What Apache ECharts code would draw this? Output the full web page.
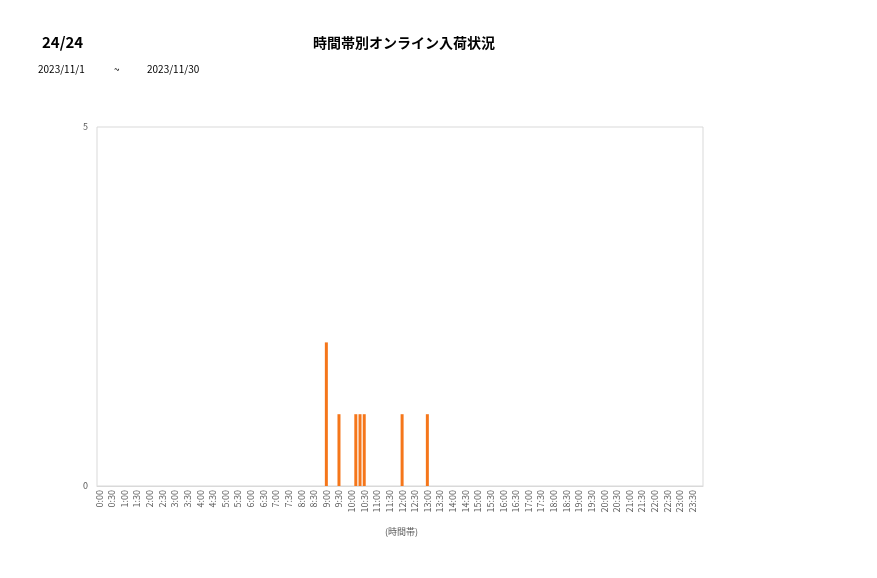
<!DOCTYPE html>
<html><head><meta charset="utf-8">
<script src="https://cdn.jsdelivr.net/npm/echarts@6/dist/echarts.min.js"></script>
<style>html,body{margin:0;padding:0;background:#fff}#c{width:877px;height:578px}</style>
</head><body><div id="c"></div>
<script>
const pageLabel = '24/24';
const titleText = '時間帯別オンライン入荷状況';
const dateFrom = '2023/11/1';
const dateTo = '2023/11/30';
const xName = '(時間帯)';
// 10-minute slots across the day
const slots = [];
for (let h = 0; h < 24; h++) for (let m = 0; m < 60; m += 10) slots.push(h + ':' + (m < 10 ? '0' + m : m));
// non-zero counts
const hitSlots = ['9:00', '9:30', '10:10', '10:20', '10:30', '12:00', '13:00'];
const hitValues = [2, 1, 1, 1, 1, 1, 1];
const values = slots.map(s => { const i = hitSlots.indexOf(s); return i >= 0 ? hitValues[i] : 0; });
const yTicks = [0, 5];

const font = '"Noto Sans CJK JP", "Noto Sans", sans-serif';
const chart = echarts.init(document.getElementById('c'));
chart.setOption({
  animation: false,
  textStyle: { fontFamily: font },
  grid: { left: 97, right: 174, top: 127, bottom: 92, show: true, borderColor: '#d9d9d9', borderWidth: 1 },
  xAxis: {
    type: 'category', data: slots,
    axisLine: { lineStyle: { color: '#d9d9d9' } },
    axisTick: { show: false },
    axisLabel: { interval: 2, rotate: 90, fontSize: 9, color: '#595959', margin: 4, fontFamily: font }
  },
  yAxis: {
    type: 'value', min: yTicks[0], max: yTicks[1], interval: 5,
    splitLine: { show: false }, axisLine: { show: false }, axisTick: { show: false },
    axisLabel: { fontSize: 9, color: '#595959', margin: 9, fontFamily: font }
  },
  series: [{ type: 'bar', data: values, barWidth: 3, itemStyle: { color: '#f5761a' } }],
  graphic: [
    { type: 'text', left: 42, top: 35, style: { text: pageLabel, font: 'bold 15px ' + font, fill: '#000' } },
    { type: 'text', left: 313, top: 36, style: { text: titleText, font: 'bold 14px ' + font, fill: '#000' } },
    { type: 'text', left: 38, top: 64, style: { text: dateFrom, font: '10px ' + font, fill: '#000' } },
    { type: 'text', left: 114, top: 64, style: { text: '~', font: '10px ' + font, fill: '#000' } },
    { type: 'text', left: 147, top: 64, style: { text: dateTo, font: '10px ' + font, fill: '#000' } },
    { type: 'text', left: 385, top: 527, style: { text: xName, font: '9px ' + font, fill: '#595959' } }
  ]
});
</script></body></html>
